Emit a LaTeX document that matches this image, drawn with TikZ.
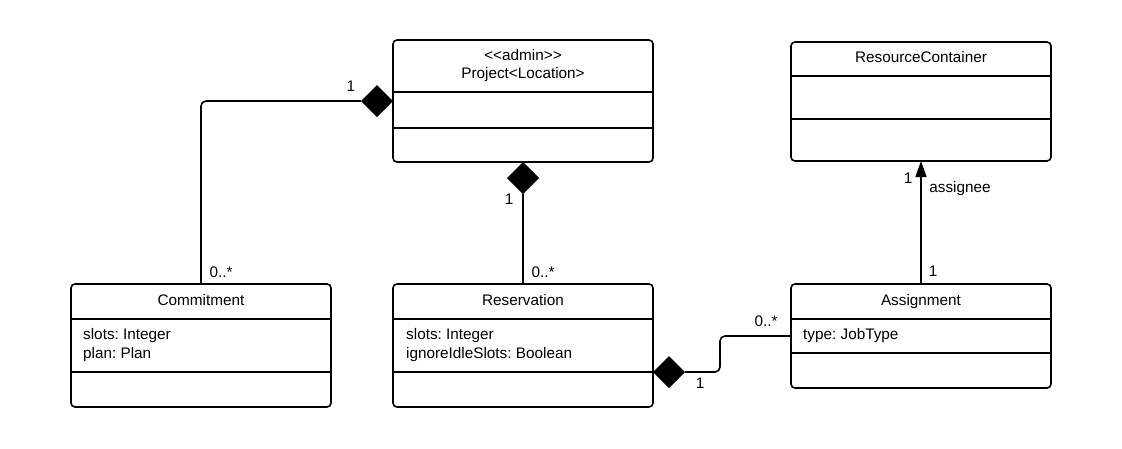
\documentclass[tikz,border=0pt]{standalone}
\usepackage{fontspec}
\setmainfont{Liberation Sans}
\frenchspacing
\usetikzlibrary{positioning}
\usetikzlibrary{shapes.geometric, arrows.meta}
\tikzset{
    classBox/.style={rectangle, rounded corners=4pt, draw=black, line width=1.6pt, minimum width=260pt, inner sep=0pt, outer sep=0pt, anchor=north west},
    divider/.style={line width=1.6pt},
    classText/.style={inner sep=0pt, text height=11pt, text depth=0pt},
    attrText/.style={classText, anchor=west},
    multText/.style={inner sep=0pt, text height=11pt, text depth=0pt},
    composition/.style={diamond, fill=black, minimum width=32pt, minimum height=32pt, inner sep=0pt, outer sep=0pt},
    line/.style={line width=1.6pt, rounded corners=5pt},
    arrow/.style={line width=1.6pt, -{Triangle[width=11pt,length=16pt]}}
}

\begin{document}
\begin{tikzpicture}[x=1pt, y=-1pt, font=\fontsize{15.3}{19}\selectfont]
    \useasboundingbox (0,0) rectangle (1122,448);

    % class boxes
    \node (project) [classBox, minimum height=122pt] at (393,40) {};
    \node (resource) [classBox, minimum height=119pt] at (791,42) {};
    \node (commitment) [classBox, minimum height=123pt] at (71,284) {};
    \node (reservation) [classBox, minimum height=123pt] at (393,284) {};
    \node (assignment) [classBox, minimum height=104pt] at (791,284) {};

    % compartments
    \draw [divider] ([yshift=-52pt]project.north west) -- ([yshift=-52pt]project.north east);
    \draw [divider] ([yshift=-88pt]project.north west) -- ([yshift=-88pt]project.north east);
    \draw [divider] ([yshift=-34pt]resource.north west) -- ([yshift=-34pt]resource.north east);
    \draw [divider] ([yshift=-77pt]resource.north west) -- ([yshift=-77pt]resource.north east);
    \draw [divider] ([yshift=-35pt]commitment.north west) -- ([yshift=-35pt]commitment.north east);
    \draw [divider] ([yshift=-88pt]commitment.north west) -- ([yshift=-88pt]commitment.north east);
    \draw [divider] ([yshift=-35pt]reservation.north west) -- ([yshift=-35pt]reservation.north east);
    \draw [divider] ([yshift=-88pt]reservation.north west) -- ([yshift=-88pt]reservation.north east);
    \draw [divider] ([yshift=-35pt]assignment.north west) -- ([yshift=-35pt]assignment.north east);
    \draw [divider] ([yshift=-69pt]assignment.north west) -- ([yshift=-69pt]assignment.north east);

    % names and attributes
    \node (projectStereo) [classText] at (523,55) {<\kern0pt<admin>\kern0pt>};
    \node (projectName) [classText] at (523,73) {Project<Location>};
    \node (resourceName) [classText] at (921,57) {ResourceContainer};
    \node (commitmentName) [classText] at (201,300) {Commitment};
    \node (reservationName) [classText] at (523,300) {Reservation};
    \node (assignmentName) [classText] at (921,300) {Assignment};

    \node (commitmentSlots) [attrText] at (83,334) {slots: Integer};
    \node (commitmentPlan) [attrText] at (83,353) {plan: Plan};
    \node (reservationSlots) [attrText] at (406,334) {slots: Integer};
    \node (reservationIdle) [attrText] at (406,353) {ignoreIdleSlots: Boolean};
    \node (assignmentType) [attrText] at (803,334) {type: JobType};

    % associations
    \node (projectDiamondL) [composition, anchor=east] at (project.west) {};
    \node (projectDiamondB) [composition, anchor=north] at (project.south) {};
    \node (reservationDiamond) [composition, anchor=west] at ([yshift=-26.5pt]reservation.east) {};

    \draw [line] (projectDiamondL.west) -| (commitment.north);
    \draw [line] (projectDiamondB.south) -- (reservation.north);
    \draw [line] (reservationDiamond.east) -- ++(35,0) |- (assignment.west);
    \draw [arrow] (assignment.north) -- (resource.south);

    % multiplicities
    \node (multProject1) [multText] at (351,86) {1};
    \node (multCommitment) [multText] at (221,272) {0..*};
    \node (multProject2) [multText] at (509,199) {1};
    \node (multReservation) [multText] at (543,272) {0..*};
    \node (multAssignment1) [multText] at (766,321) {0..*};
    \node (multReservation1) [multText] at (700,383) {1};
    \node (multResource) [multText] at (908,178) {1};
    \node (roleAssignee) [multText] at (960,187) {assignee};
    \node (multAssignment2) [multText] at (933,271) {1};

\end{tikzpicture}
\end{document}
